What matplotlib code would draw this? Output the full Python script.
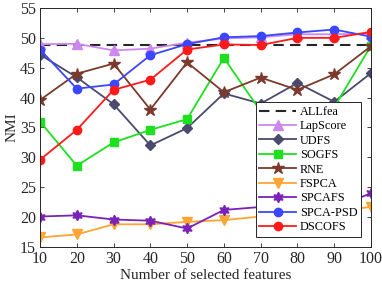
import matplotlib
matplotlib.use("Agg")
import matplotlib.pyplot as plt

plt.rcParams['font.family'] = ['Liberation Serif', 'DejaVu Serif']
plt.rcParams['mathtext.fontset'] = 'stix'

x = [10, 20, 30, 40, 50, 60, 70, 80, 90, 100]
allfea = [48.8] * 10
lapscore = [48.95, 49.0, 47.9, 48.2, 49.2, 49.9, 50.1, 50.6, 50.6, 50.7]
udfs = [47.2, 43.4, 38.9, 32.0, 34.9, 40.7, 39.0, 42.45, 39.3, 44.1]
sogfs = [36.0, 28.6, 32.5, 34.6, 36.4, 46.65, 37.7, 38.2, 38.4, 48.7]
rne = [39.6, 44.0, 45.7, 38.0, 45.9, 40.9, 43.35, 41.3, 43.9, 48.6]
fspca = [16.6, 17.1, 18.8, 18.8, 19.2, 19.5, 20.1, 20.6, 21.0, 21.7]
spcafs = [20.1, 20.3, 19.6, 19.4, 18.1, 21.2, 21.7, 22.0, 21.5, 24.0]
spcapsd = [48.05, 41.5, 42.2, 47.1, 48.95, 50.1, 50.3, 50.9, 51.4, 50.2]
dscofs = [29.6, 34.6, 41.3, 43.0, 48.05, 48.9, 48.8, 50.0, 50.0, 51.0]

labels = ['ALLfea', 'LapScore', 'UDFS', 'SOGFS', 'RNE', 'FSPCA', 'SPCAFS', 'SPCA-PSD', 'DSCOFS']
xticks = [10, 20, 30, 40, 50, 60, 70, 80, 90, 100]
yticks = [15, 20, 25, 30, 35, 40, 45, 50, 55]

fig = plt.figure(figsize=(3.82, 2.87), dpi=100)
ax = fig.add_axes([40/382, 1-247/287, 331/382, 239/287])

lw = 1.3
ax.plot(x, allfea, '--', color='#262626', lw=1.5, label=labels[0], dashes=(5, 3))
ax.plot(x, lapscore, '-^', color='#cc88ee', lw=lw, ms=6.5, label=labels[1])
ax.plot(x, udfs, '-D', color='#4a4a6e', lw=lw, ms=5, label=labels[2])
ax.plot(x, sogfs, '-s', color='#1ee01e', lw=lw, ms=5.5, label=labels[3])
ax.plot(x, rne, '-*', color='#7b3a2c', lw=lw, ms=9, label=labels[4])
ax.plot(x, fspca, '-v', color='#ffa533', lw=lw, ms=6.5, label=labels[5])
ax.plot(x, spcafs, '-', marker=(6, 1, 0), color='#7a22b8', lw=lw, ms=7.5, label=labels[6])
ax.plot(x, spcapsd, '-o', color='#3a46ff', lw=lw, ms=6, label=labels[7])
ax.plot(x, dscofs, '-o', color='#ff1a1a', lw=lw, ms=6, label=labels[8])

ax.set_xlim(10, 100)
ax.set_ylim(15, 55)
ax.set_xticks(xticks)
ax.set_yticks(yticks)
ax.tick_params(direction='in', top=True, right=True, labelsize=11.5, length=3, width=0.6, colors='#262626', pad=3)
for t in ax.get_xticklabels() + ax.get_yticklabels():
    t.set_color('#262626')
for s in ax.spines.values():
    s.set_linewidth(0.7)
    s.set_color('#262626')
ax.set_xlabel('Number of selected features', fontsize=11, color='#262626', labelpad=1)
ax.set_ylabel('NMI', fontsize=11, color='#262626', labelpad=1)

leg = ax.legend(loc='lower right', bbox_to_anchor=(1 - 10/331, 10/239), fontsize=8.8,
                frameon=True, fancybox=False, edgecolor='#262626', framealpha=1,
                handlelength=3.0, handletextpad=0.3, labelspacing=0.2, borderpad=0.3,
                borderaxespad=0)
leg.get_frame().set_linewidth(0.7)

fig.savefig('out.png', dpi=100)
